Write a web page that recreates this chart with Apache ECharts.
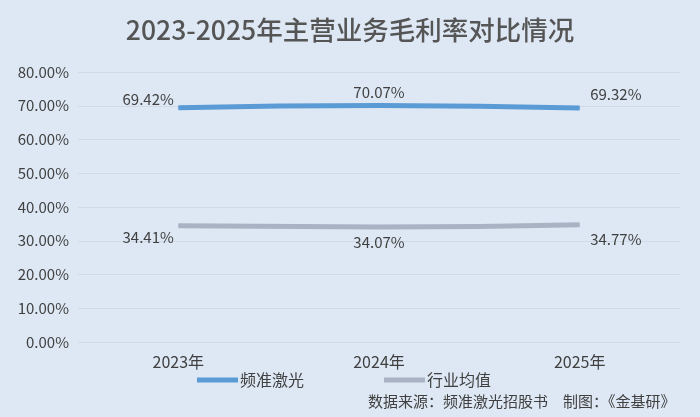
<!DOCTYPE html>
<html>
<head>
<meta charset="utf-8">
<script src="https://cdn.jsdelivr.net/npm/echarts@6/dist/echarts.min.js"></script>
<style>
html,body{margin:0;padding:0;background:#dde8f4;}
#c{width:700px;height:417px;}
</style>
</head>
<body>
<div id="c"></div>
<script>
var categories = ['2023年', '2024年', '2025年'];
var seriesNames = ['频准激光', '行业均值'];
var pinzhun = [69.42, 70.07, 69.32];
var industry = [34.41, 34.07, 34.77];
var yTicks = [0, 10, 20, 30, 40, 50, 60, 70, 80];

var FONT = '"Noto Sans CJK SC", "Noto Sans", sans-serif';
var chart = echarts.init(document.getElementById('c'));

function fmt(v){ return v.toFixed(2) + '%'; }

var bluePos = [
  {position:'left', offset:[1,-8]},
  {position:'top', offset:[0,0]},
  {position:'right', offset:[5,-14]}
];
var grayPos = [
  {position:'left', offset:[1,11]},
  {position:'bottom', offset:[0,2]},
  {position:'right', offset:[5,15]}
];

chart.setOption({
  backgroundColor: '#dde8f4',
  title: {
    text: '2023-2025年主营业务毛利率对比情况',
    left: 'center',
    top: 12,
    textStyle: {fontFamily: FONT, fontSize: 26.5, fontWeight: 500, color: '#555555'}
  },
  grid: {left: 78, right: 20, top: 72, bottom: 75},
  legend: {
    data: seriesNames,
    bottom: 24,
    left: 192,
    itemGap: 80,
    itemWidth: 41,
    itemHeight: 5,
    icon: 'rect',
    textStyle: {fontFamily: FONT, fontSize: 16, color: '#404040', padding:[0,0,0,-3]}
  },
  xAxis: {
    type: 'category',
    data: categories,
    boundaryGap: true,
    axisLine: {show: false},
    axisTick: {show: false},
    axisLabel: {fontFamily: FONT, fontSize: 16, color: '#404040', margin: 12}
  },
  yAxis: {
    type: 'value',
    min: yTicks[0],
    max: yTicks[yTicks.length - 1],
    interval: yTicks[1] - yTicks[0],
    axisLine: {show: false},
    axisTick: {show: false},
    axisLabel: {fontFamily: FONT, fontSize: 15, color: '#404040', margin: 9,
      formatter: function(v){ return fmt(v); }},
    splitLine: {lineStyle: {color: '#cfdae6', width: 1}}
  },
  series: [
    {
      name: seriesNames[0],
      type: 'line',
      data: pinzhun.map(function(v, i){ return {value: v, label: bluePos[i]}; }),
      smooth: 0.5,
      symbol: 'circle',
      symbolSize: 1,
      showSymbol: true,
      lineStyle: {color: '#5b9bd5', width: 5},
      itemStyle: {color: '#5b9bd5'},
      label: {show: true, fontFamily: FONT, fontSize: 15, color: '#404040',
        formatter: function(p){ return fmt(p.value); }}
    },
    {
      name: seriesNames[1],
      type: 'line',
      data: industry.map(function(v, i){ return {value: v, label: grayPos[i]}; }),
      smooth: 0.5,
      symbol: 'circle',
      symbolSize: 1,
      showSymbol: true,
      lineStyle: {color: '#a9b3c4', width: 5},
      itemStyle: {color: '#a9b3c4'},
      label: {show: true, fontFamily: FONT, fontSize: 15, color: '#404040',
        formatter: function(p){ return fmt(p.value); }}
    }
  ],
  graphic: [
    {
      type: 'text',
      left: 368,
      top: 394,
      style: {text: '数据来源：频准激光招股书　制图：《金基研》', font: '15px ' + FONT, fill: '#404040'}
    }
  ]
});
</script>
</body>
</html>
